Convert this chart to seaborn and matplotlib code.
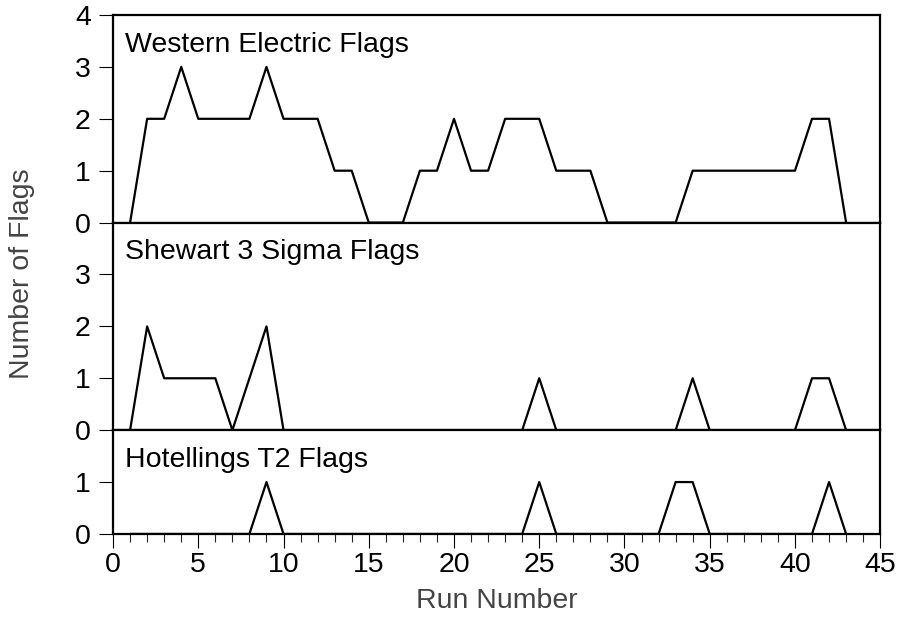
import matplotlib
matplotlib.use("Agg")
import matplotlib.pyplot as plt
import seaborn as sns
import pandas as pd
from matplotlib.ticker import MultipleLocator

runs = list(range(1, 44))
western_electric = [0, 2, 2, 3, 2, 2, 2, 2, 3, 2, 2, 2, 1, 1, 0, 0, 0, 1, 1, 2,
                    1, 1, 2, 2, 2, 1, 1, 1, 0, 0, 0, 0, 0, 1, 1, 1, 1, 1, 1, 1,
                    2, 2, 0]
shewhart = [0, 2, 1, 1, 1, 1, 0, 1, 2, 0, 0, 0, 0, 0, 0, 0, 0, 0, 0, 0,
            0, 0, 0, 0, 1, 0, 0, 0, 0, 0, 0, 0, 0, 1, 0, 0, 0, 0, 0, 0,
            1, 1, 0]
hotelling = [0, 0, 0, 0, 0, 0, 0, 0, 1, 0, 0, 0, 0, 0, 0, 0, 0, 0, 0, 0,
             0, 0, 0, 0, 1, 0, 0, 0, 0, 0, 0, 0, 1, 1, 0, 0, 0, 0, 0, 0,
             0, 1, 0]
panel_titles = ["Western Electric Flags", "Shewart 3 Sigma Flags", "Hotellings T2 Flags"]
y_limits = [4, 4, 2]
y_ticks = [[0, 1, 2, 3, 4], [0, 1, 2, 3], [0, 1]]
x_ticks = [0, 5, 10, 15, 20, 25, 30, 35, 40, 45]

sns.set_theme(style="ticks")
plt.rcParams["font.family"] = ["Liberation Sans", "DejaVu Sans"]

FS = 20.5
fig = plt.figure(figsize=(9, 6.18), dpi=100)
gs = fig.add_gridspec(3, 1, height_ratios=y_limits, hspace=0,
                      left=0.1256, right=0.978, top=0.9757, bottom=0.136)
axes = [fig.add_subplot(gs[i]) for i in range(3)]

series = [western_electric, shewhart, hotelling]
for i, (ax, vals) in enumerate(zip(axes, series)):
    df = pd.DataFrame({"run": runs, "flags": vals})
    sns.lineplot(data=df, x="run", y="flags", ax=ax, color="black", linewidth=1.6)
    ax.set_xlim(0, 45)
    ax.set_ylim(0, y_limits[i])
    ax.set_yticks(y_ticks[i])
    ax.set_xlabel("")
    ax.set_ylabel("")
    for sp in ax.spines.values():
        sp.set_visible(True)
        sp.set_linewidth(1.6)
        sp.set_color("black")
    ax.tick_params(axis="y", direction="out", length=10, width=0.8,
                   labelsize=FS, colors="black", pad=6)
    ax.annotate(panel_titles[i], xy=(0, 1), xycoords="axes fraction",
                xytext=(8.6, -26.5), textcoords="offset points",
                ha="left", va="baseline", fontsize=FS, color="black")
    if i < 2:
        ax.tick_params(axis="x", which="both", bottom=False, labelbottom=False)
    else:
        ax.set_xticks(x_ticks)
        ax.xaxis.set_minor_locator(MultipleLocator(1))
        ax.tick_params(axis="x", which="major", direction="out", length=10,
                       width=0.8, labelsize=FS, colors="black", pad=3)
        ax.tick_params(axis="x", which="minor", direction="out", length=5.5,
                       width=0.8)

axes[2].set_xlabel("Run Number", fontsize=FS, color="#444444", labelpad=7)
fig.text(0.0244, 0.5566, "Number of Flags", rotation=90, ha="center", va="center",
         fontsize=FS, color="#444444")

fig.savefig("out.png", dpi=100)
